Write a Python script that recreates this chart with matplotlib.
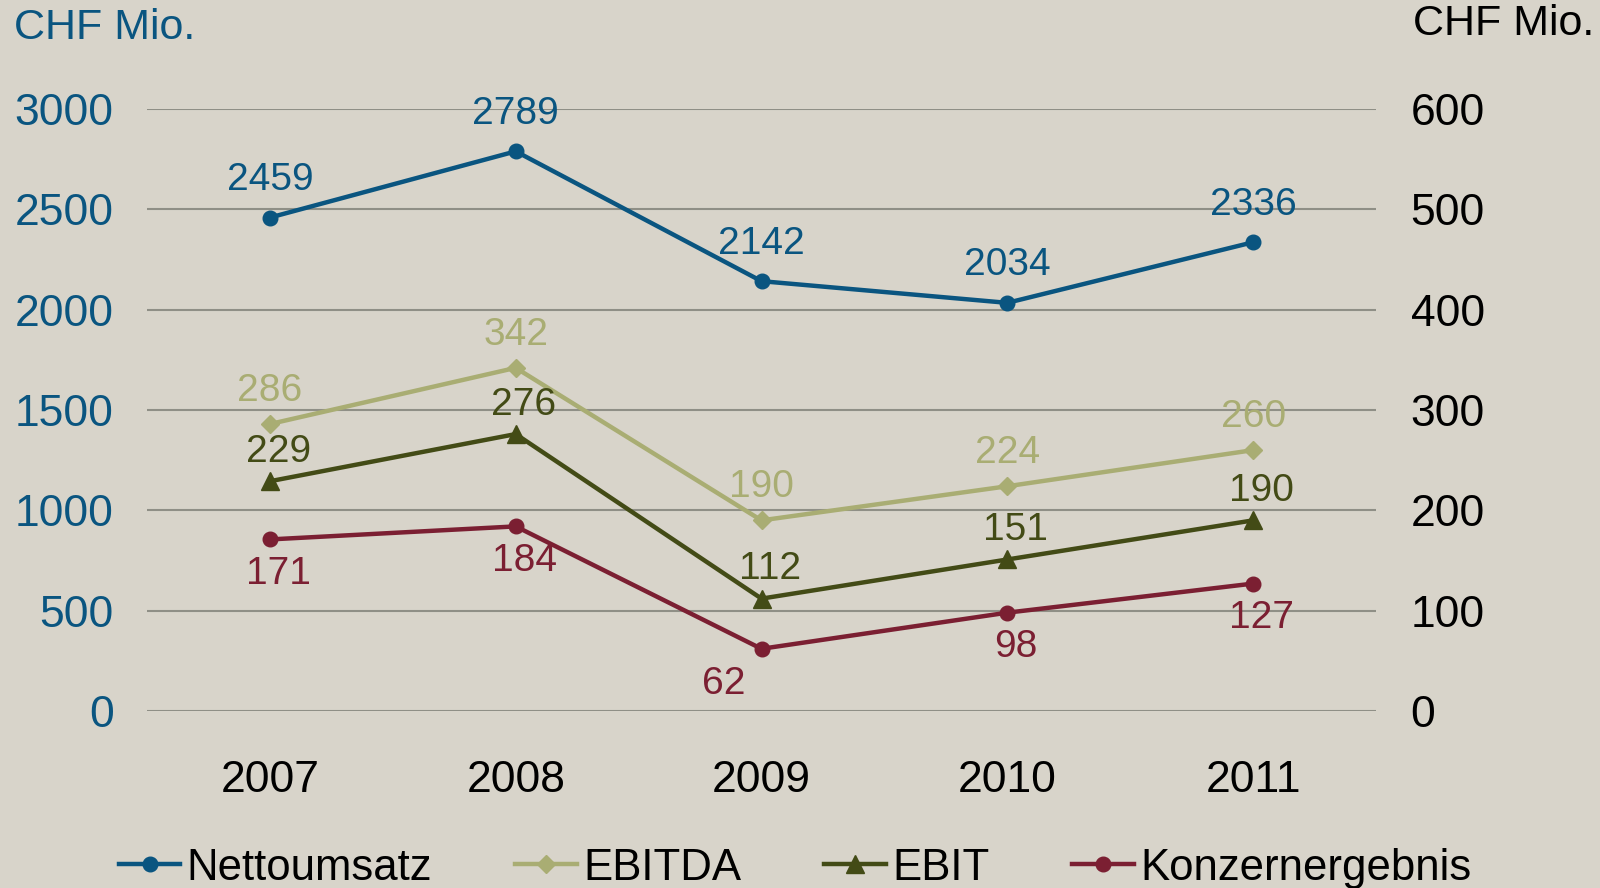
import matplotlib.pyplot as plt

years = ["2007", "2008", "2009", "2010", "2011"]
nettoumsatz = [2459, 2789, 2142, 2034, 2336]
ebitda = [286, 342, 190, 224, 260]
ebit = [229, 276, 112, 151, 190]
konzernergebnis = [171, 184, 62, 98, 127]

left_ticks = [0, 500, 1000, 1500, 2000, 2500, 3000]
right_ticks = [0, 100, 200, 300, 400, 500, 600]

bg = "#d8d4ca"
c_netto = "#0a5580"
c_ebitda = "#a9ad73"
c_ebit = "#434b16"
c_konzern = "#7b1f32"

plt.rcParams["font.family"] = ["Liberation Sans", "DejaVu Sans"]

fig = plt.figure(figsize=(16, 8.88), dpi=100, facecolor=bg)
ax = fig.add_axes([147 / 1600, 1 - 711 / 888, (1376 - 147) / 1600, (711 - 109) / 888])
ax.set_facecolor(bg)
ax2 = ax.twinx()

x = range(len(years))

# left axis: Nettoumsatz
ax.plot(x, nettoumsatz, color=c_netto, lw=3.2, marker="o", ms=10.5, label="Nettoumsatz")
for i, v in enumerate(nettoumsatz):
    ax.annotate(str(v), (i, v), xytext=(0, 27), textcoords="offset points",
                ha="center", va="center", fontsize=28, color=c_netto)

# right axis: the others
ax2.plot(x, ebitda, color=c_ebitda, lw=3.2, marker="D", ms=9, label="EBITDA")
ax2.plot(x, ebit, color=c_ebit, lw=3.2, marker="^", ms=12.5, label="EBIT")
ax2.plot(x, konzernergebnis, color=c_konzern, lw=3.2, marker="o", ms=10.5, label="Konzernergebnis")

for i, v in enumerate(ebitda):
    ax2.annotate(str(v), (i, v), xytext=(0, 24), textcoords="offset points",
                 ha="center", va="center", fontsize=28, color=c_ebitda)
for i, v in enumerate(ebit):
    ax2.annotate(str(v), (i, v), xytext=(6, 21), textcoords="offset points",
                 ha="center", va="center", fontsize=28, color=c_ebit)
for i, v in enumerate(konzernergebnis):
    dx = -27 if i == 2 else 6
    ax2.annotate(str(v), (i, v), xytext=(dx, -25), textcoords="offset points",
                 ha="center", va="center", fontsize=28, color=c_konzern)

ax.set_xlim(-0.5, 4.5)
ax.set_ylim(0, 3000)
ax2.set_ylim(0, 600)
ax.set_yticks(left_ticks)
ax2.set_yticks(right_ticks)
ax.set_xticks(list(x))
ax.set_xticklabels(years)

ax.grid(axis="y", color="#8f8f86", lw=1.5)
ax.set_axisbelow(True)
for a in (ax, ax2):
    for s in a.spines.values():
        s.set_visible(False)

ax.tick_params(axis="y", length=0, pad=24, labelsize=32, labelcolor=c_netto)
ax.tick_params(axis="x", length=0, pad=35, labelsize=32, labelcolor="black")
ax2.tick_params(axis="y", length=0, pad=25, labelsize=32, labelcolor="black")

fig.text(14 / 1600, 1 - 28 / 888, "CHF Mio.", fontsize=31, color=c_netto, va="center", ha="left")
fig.text(1594 / 1600, 1 - 24 / 888, "CHF Mio.", fontsize=31, color="black", va="center", ha="right")

h1, l1 = ax.get_legend_handles_labels()
h2, l2 = ax2.get_legend_handles_labels()
fig.legend(h1 + h2, l1 + l2, loc="center", bbox_to_anchor=(0.497, 1 - 868 / 888), ncol=4,
           frameon=False, fontsize=31.5, handlelength=1.4, handletextpad=0.15, columnspacing=1.9)

fig.savefig("out.png", dpi=100, facecolor=bg)
